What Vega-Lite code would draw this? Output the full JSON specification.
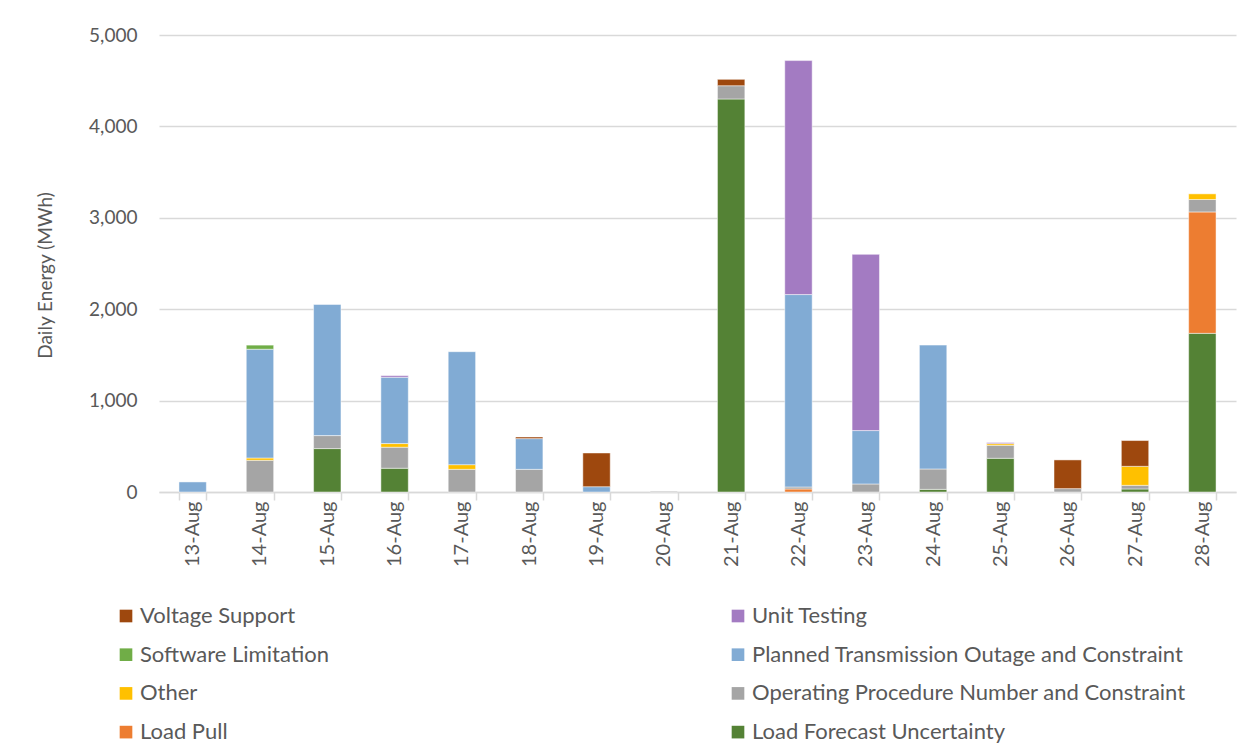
{
  "$schema": "https://vega.github.io/schema/vega-lite/v6.json",
  "width": 1077,
  "height": 457,
  "autosize": "none",
  "padding": {"left": 159, "top": 35, "right": 20, "bottom": 261},
  "background": "white",
  "data": {
    "values": [
      {"date": "13-Aug", "cause": "Planned Transmission Outage and Constraint", "mwh": 110},
      {"date": "14-Aug", "cause": "Operating Procedure Number and Constraint", "mwh": 347},
      {"date": "14-Aug", "cause": "Other", "mwh": 25},
      {"date": "14-Aug", "cause": "Planned Transmission Outage and Constraint", "mwh": 1190},
      {"date": "14-Aug", "cause": "Software Limitation", "mwh": 45},
      {"date": "15-Aug", "cause": "Load Forecast Uncertainty", "mwh": 475},
      {"date": "15-Aug", "cause": "Operating Procedure Number and Constraint", "mwh": 142},
      {"date": "15-Aug", "cause": "Planned Transmission Outage and Constraint", "mwh": 1435},
      {"date": "16-Aug", "cause": "Load Forecast Uncertainty", "mwh": 260},
      {"date": "16-Aug", "cause": "Operating Procedure Number and Constraint", "mwh": 230},
      {"date": "16-Aug", "cause": "Other", "mwh": 40},
      {"date": "16-Aug", "cause": "Planned Transmission Outage and Constraint", "mwh": 725},
      {"date": "16-Aug", "cause": "Unit Testing", "mwh": 18},
      {"date": "17-Aug", "cause": "Operating Procedure Number and Constraint", "mwh": 248},
      {"date": "17-Aug", "cause": "Other", "mwh": 51},
      {"date": "17-Aug", "cause": "Planned Transmission Outage and Constraint", "mwh": 1236},
      {"date": "18-Aug", "cause": "Operating Procedure Number and Constraint", "mwh": 248},
      {"date": "18-Aug", "cause": "Planned Transmission Outage and Constraint", "mwh": 336},
      {"date": "18-Aug", "cause": "Voltage Support", "mwh": 18},
      {"date": "19-Aug", "cause": "Planned Transmission Outage and Constraint", "mwh": 58},
      {"date": "19-Aug", "cause": "Voltage Support", "mwh": 369},
      {"date": "20-Aug", "cause": "Operating Procedure Number and Constraint", "mwh": 8},
      {"date": "21-Aug", "cause": "Load Forecast Uncertainty", "mwh": 4300},
      {"date": "21-Aug", "cause": "Operating Procedure Number and Constraint", "mwh": 145},
      {"date": "21-Aug", "cause": "Voltage Support", "mwh": 70},
      {"date": "22-Aug", "cause": "Load Pull", "mwh": 33},
      {"date": "22-Aug", "cause": "Operating Procedure Number and Constraint", "mwh": 22},
      {"date": "22-Aug", "cause": "Planned Transmission Outage and Constraint", "mwh": 2105},
      {"date": "22-Aug", "cause": "Unit Testing", "mwh": 2560},
      {"date": "23-Aug", "cause": "Operating Procedure Number and Constraint", "mwh": 88},
      {"date": "23-Aug", "cause": "Planned Transmission Outage and Constraint", "mwh": 584},
      {"date": "23-Aug", "cause": "Unit Testing", "mwh": 1928},
      {"date": "24-Aug", "cause": "Load Forecast Uncertainty", "mwh": 29},
      {"date": "24-Aug", "cause": "Operating Procedure Number and Constraint", "mwh": 223},
      {"date": "24-Aug", "cause": "Planned Transmission Outage and Constraint", "mwh": 1355},
      {"date": "25-Aug", "cause": "Load Forecast Uncertainty", "mwh": 369},
      {"date": "25-Aug", "cause": "Operating Procedure Number and Constraint", "mwh": 142},
      {"date": "25-Aug", "cause": "Other", "mwh": 18},
      {"date": "25-Aug", "cause": "Unit Testing", "mwh": 12},
      {"date": "26-Aug", "cause": "Operating Procedure Number and Constraint", "mwh": 37},
      {"date": "26-Aug", "cause": "Voltage Support", "mwh": 314},
      {"date": "27-Aug", "cause": "Load Forecast Uncertainty", "mwh": 33},
      {"date": "27-Aug", "cause": "Operating Procedure Number and Constraint", "mwh": 40},
      {"date": "27-Aug", "cause": "Other", "mwh": 208},
      {"date": "27-Aug", "cause": "Voltage Support", "mwh": 282},
      {"date": "28-Aug", "cause": "Load Forecast Uncertainty", "mwh": 1736},
      {"date": "28-Aug", "cause": "Load Pull", "mwh": 1328},
      {"date": "28-Aug", "cause": "Operating Procedure Number and Constraint", "mwh": 136},
      {"date": "28-Aug", "cause": "Other", "mwh": 62}
    ]
  },
  "mark": {"type": "bar", "stroke": "white", "strokeWidth": 0.8, "strokeOpacity": 0.6},
  "encoding": {
    "x": {
      "field": "date",
      "type": "ordinal",
      "sort": ["13-Aug","14-Aug","15-Aug","16-Aug","17-Aug","18-Aug","19-Aug","20-Aug","21-Aug","22-Aug","23-Aug","24-Aug","25-Aug","26-Aug","27-Aug","28-Aug"],
      "scale": {"paddingInner": 0.593, "paddingOuter": 0.2965},
      "axis": {
        "title": null,
        "labelAngle": -90,
        "labelFont": "Lato",
        "labelFontSize": 20,
        "labelColor": "#595959",
        "labelPadding": 1,
        "domainColor": "#d9d9d9",
        "domainWidth": 1.5,
        "tickColor": "#d9d9d9",
        "tickWidth": 1.5,
        "tickSize": 8,
        "tickBand": "extent",
        "grid": false
      }
    },
    "y": {
      "field": "mwh",
      "type": "quantitative",
      "aggregate": "sum",
      "stack": "zero",
      "scale": {"domain": [0, 5000], "nice": false},
      "axis": {
        "title": "Daily Energy (MWh)",
        "titleFont": "Lato",
        "titleFontSize": 19,
        "titleFontWeight": "normal",
        "titleColor": "#595959",
        "titleX": -114,
        "titleY": 240,
        "titleAngle": -90,
        "titleAlign": "center",
        "titleBaseline": "middle",
        "values": [0, 1000, 2000, 3000, 4000, 5000],
        "format": ",.0f",
        "labelFont": "Lato",
        "labelFontSize": 19,
        "labelColor": "#595959",
        "labelPadding": 22,
        "domain": false,
        "ticks": false,
        "grid": true,
        "gridColor": "#d9d9d9",
        "gridWidth": 1.5
      }
    },
    "color": {
      "field": "cause",
      "type": "nominal",
      "scale": {
        "domain": ["Voltage Support", "Software Limitation", "Other", "Load Pull", "Unit Testing", "Planned Transmission Outage and Constraint", "Operating Procedure Number and Constraint", "Load Forecast Uncertainty"],
        "range": ["#9e480e", "#70ad47", "#ffc000", "#ed7d31", "#a37bc2", "#81abd4", "#a5a5a5", "#548235"]
      },
      "legend": {
        "title": null,
        "orient": "none",
        "legendX": -44,
        "legendY": 570,
        "columns": 2,
        "columnPadding": 398,
        "rowPadding": 16.7,
        "symbolType": "square",
        "symbolSize": 160,
        "symbolStrokeWidth": 0,
        "labelOffset": 3,
        "labelFont": "Lato",
        "labelFontSize": 22,
        "labelColor": "#595959",
        "labelLimit": 600
      }
    },
    "order": {"field": "cause", "sort": "ascending"}
  },
  "config": {"view": {"stroke": null}}
}
